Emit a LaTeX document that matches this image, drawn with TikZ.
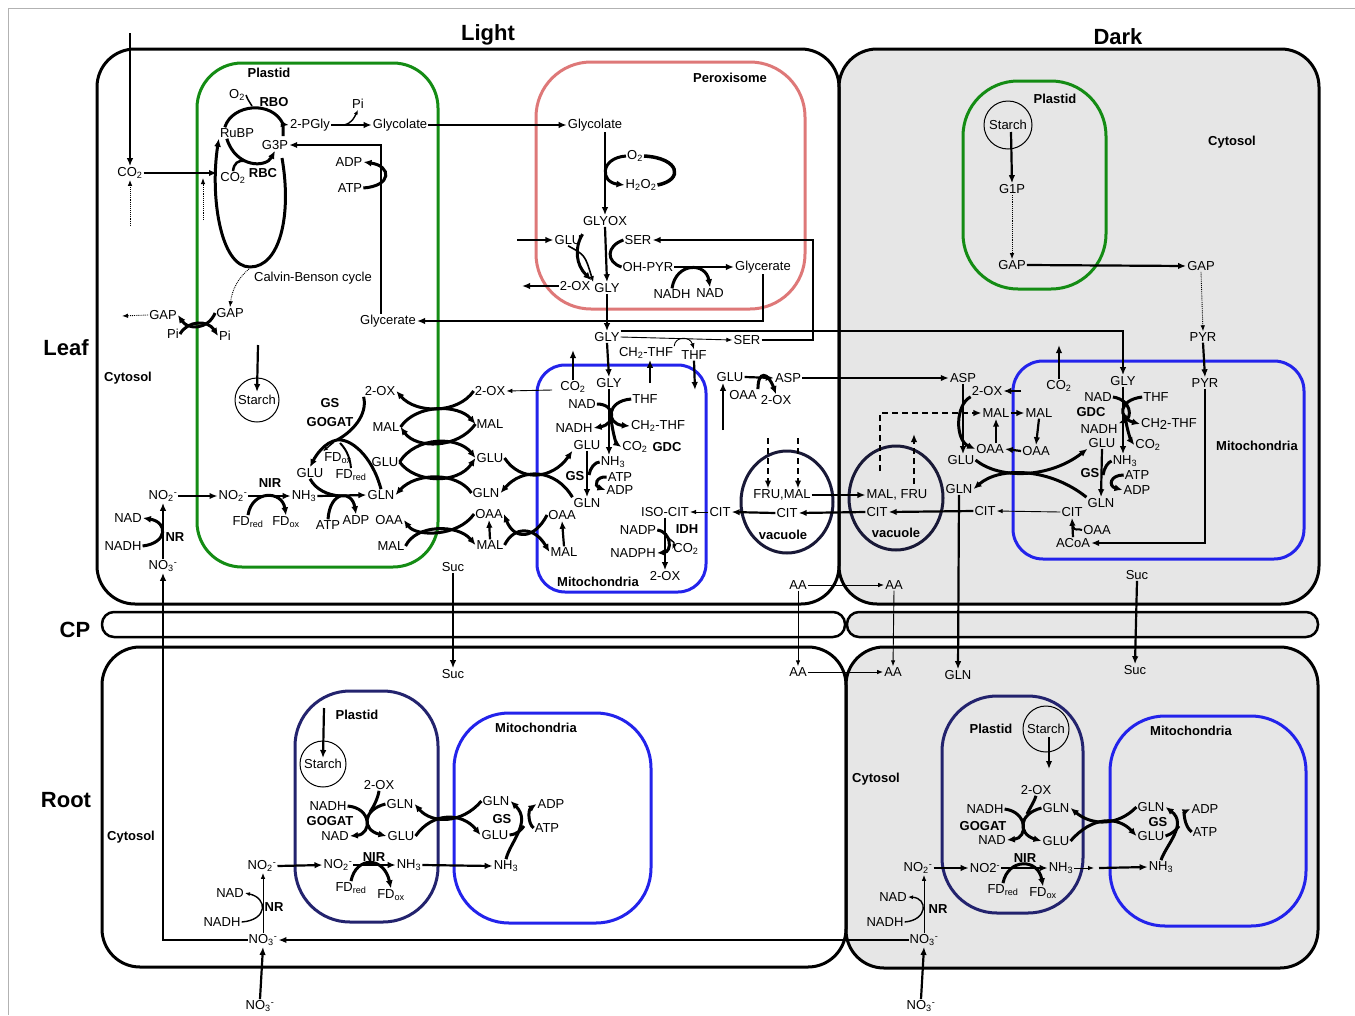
\documentclass[tikz,border=0pt]{standalone}
\usepackage{fontspec}
\setmainfont{Liberation Sans}
\usetikzlibrary{arrows.meta,calc}
\definecolor{pgreen}{RGB}{20,140,20}
\definecolor{mblue}{RGB}{35,35,235}
\definecolor{pxpink}{RGB}{222,120,120}
\definecolor{rnavy}{RGB}{35,35,110}
\definecolor{vnavy}{RGB}{25,25,55}
\definecolor{dgray}{RGB}{230,230,230}
\newcommand{\myfs}{\fontsize{13}{15}\selectfont}
\newcommand{\mysub}[1]{\textsubscript{#1}}
\newcommand{\mysup}[1]{\textsuperscript{#1}}
\newcommand{\Nd}[4]{\node[tx] (#1) at (#2,#3) {#4};}
\newcommand{\Bd}[4]{\node[bx] (#1) at (#2,#3) {#4};}
\begin{document}
\begin{tikzpicture}[x=1pt,y=-1pt,
  tx/.style={font=\myfs, inner sep=1pt},
  bx/.style={font=\myfs\bfseries, inner sep=1pt},
  ttl/.style={font=\fontsize{22}{26}\selectfont\bfseries, inner sep=1pt},
  arr/.style={line width=2.2pt, -{Latex[length=8pt,width=6.5pt]}},
  tar/.style={line width=0.9pt, -{Latex[length=6pt,width=4.5pt]}},
  dar/.style={line width=0.9pt, densely dotted, -{Latex[length=6pt,width=4.5pt]}},
  hdar/.style={line width=2.2pt, dash pattern=on 6pt off 4pt, -{Latex[length=8pt,width=6.5pt]}},
  ez/.style={line width=3pt},
  ezar/.style={line width=3pt, -{Latex[length=8pt,width=7pt]}},
  ezt/.style={line width=1.4pt, -{Latex[length=5pt,width=4pt]}},
  cellst/.style={line width=3pt, rounded corners=38pt},
  stc/.style={circle, draw, line width=1pt, inner sep=0pt, font=\myfs},
]
\useasboundingbox (0,0) rectangle (1355,1015);
\draw[gray!60, line width=1pt] (8,1015) -- (8,8) -- (1355,8);

% ---------- compartments ----------
\draw[cellst, fill=dgray] (839,49) rectangle (1319,604);
\draw[cellst] (97,49) rectangle (839,604);
\draw[line width=2.5pt, rounded corners=12pt, fill=dgray] (847,612) rectangle (1318,637);
\draw[line width=2.5pt, rounded corners=12pt] (102,612) rectangle (845,637);
\draw[cellst, fill=dgray] (846,647) rectangle (1318,968);
\draw[cellst] (102,647) rectangle (846,967);

\draw[pgreen, line width=3pt, rounded corners=45pt] (197,63) rectangle (438,567);
\draw[pxpink, line width=3pt, rounded corners=55pt] (536,62) rectangle (805,309);
\draw[mblue, line width=3pt, rounded corners=28pt] (537,365) rectangle (706,592);
\draw[pgreen, line width=3pt, rounded corners=55pt] (963,81) rectangle (1106,289);
\draw[mblue, line width=3pt, rounded corners=30pt] (1013,361) rectangle (1304,559);
\draw[vnavy, line width=3pt] (787,502) ellipse [x radius=46pt, y radius=51pt];
\draw[vnavy, line width=3pt] (896,498) ellipse [x radius=47pt, y radius=52pt];
\draw[rnavy, line width=3pt, rounded corners=55pt] (295,691) rectangle (438,922);
\draw[mblue, line width=3pt, rounded corners=55pt] (454,713) rectangle (651,923);
\draw[rnavy, line width=3pt, rounded corners=55pt] (942,696) rectangle (1083,913);
\draw[mblue, line width=3pt, rounded corners=55pt] (1110,716) rectangle (1306,926);

% ---------- titles ----------
\node[ttl] (tLight) at (488,35) {Light};
\node[ttl] (tDark) at (1118,37) {Dark};
\node[ttl] (tLeaf) at (66,348) {Leaf};
\node[ttl] (tCP) at (75,630) {CP};
\node[ttl] (tRoot) at (66,800) {Root};

% ---------- leaf light: plastid + cytosol ----------
\Nd{co2in}{130}{173}{CO\mysub{2}}
\Bd{plastidA}{269}{73}{Plastid}
\Nd{o2a}{237}{95}{O\mysub{2}}
\Bd{rbo}{274}{102}{RBO}
\Nd{rubp}{237}{133}{RuBP}
\Nd{pgly}{310}{125}{2-PGly}
\Nd{pia}{358}{104}{Pi}
\Nd{glycA}{400}{125}{Glycolate}
\Nd{g3p}{275}{145}{G3P}
\Nd{adpA}{349}{162}{ADP}
\Nd{atpA}{350}{188}{ATP}
\Nd{co2a}{233}{178}{CO\mysub{2}}
\Bd{rbc}{263}{173}{RBC}
\Nd{calvin}{313}{278}{Calvin-Benson cycle}
\Nd{gapP}{230}{313}{GAP}
\Nd{piP}{225}{336}{Pi}
\Nd{gapC}{163}{315}{GAP}
\Nd{piC}{173}{334}{Pi}
\Nd{glyceA}{388}{321}{Glycerate}
\Bd{cytA}{128}{378}{Cytosol}
\node[stc, minimum size=44pt] (starchA) at (257,400) {Starch};
\Bd{gsA}{330}{403}{GS}
\Bd{gogatA}{330}{422}{GOGAT}
\Nd{oxP}{380}{391}{2-OX}
\Nd{malP1}{386}{427}{MAL}
\Nd{fdoxB}{338}{458}{FD\mysub{ox}}
\Nd{gluA}{310}{473}{GLU}
\Nd{fdredB}{351}{475}{FD\mysub{red}}
\Nd{gluP2}{385}{462}{GLU}
\Nd{no2C}{163}{496}{NO\mysub{2}\mysup{-}}
\Nd{no2P}{233}{496}{NO\mysub{2}\mysup{-}}
\Bd{nirA}{270}{483}{NIR}
\Nd{nh3A}{304}{496}{NH\mysub{3}}
\Nd{glnP}{381}{495}{GLN}
\Nd{fdredA}{248}{522}{FD\mysub{red}}
\Nd{fdoxA}{286}{522}{FD\mysub{ox}}
\Nd{atpB}{328}{525}{ATP}
\Nd{adpB}{356}{520}{ADP}
\Nd{oaaP}{389}{520}{OAA}
\Nd{malP2}{391}{546}{MAL}
\Nd{nadA}{128}{518}{NAD}
\Nd{nadhA}{123}{546}{NADH}
\Bd{nrA}{175}{537}{NR}
\Nd{no3A}{163}{566}{NO\mysub{3}\mysup{-}}
\Nd{oxC}{490}{391}{2-OX}
\Nd{malC1}{490}{424}{MAL}
\Nd{gluC}{490}{458}{GLU}
\Nd{glnC}{486}{493}{GLN}
\Nd{oaaC}{489}{514}{OAA}
\Nd{malC2}{490}{545}{MAL}
\Nd{sucA}{453}{567}{Suc}

% ---------- peroxisome ----------
\Bd{peroxL}{730}{78}{Peroxisome}
\Nd{glycB}{595}{125}{Glycolate}
\Nd{o2b}{635}{156}{O\mysub{2}}
\Nd{h2o2}{641}{185}{H\mysub{2}O\mysub{2}}
\Nd{glyox}{605}{221}{GLYOX}
\Nd{gluX}{568}{240}{GLU}
\Nd{serX}{638}{240}{SER}
\Nd{ohpyr}{648}{267}{OH-PYR}
\Nd{glyceB}{763}{267}{Glycerate}
\Nd{oxX}{575}{286}{2-OX}
\Nd{glyX}{607}{288}{GLY}
\Nd{nadhX}{672}{294}{NADH}
\Nd{nadX}{710}{293}{NAD}

% ---------- leaf light: middle cytosol ----------
\Nd{glyCy}{607}{337}{GLY}
\Nd{serCy}{747}{340}{SER}
\Nd{ch2Cy}{646}{353}{CH\mysub{2}-THF}
\Nd{thfCy}{694}{355}{THF}
\Nd{gluAs}{730}{377}{GLU}
\Nd{asp}{788}{378}{ASP}
\Nd{oaaAs}{743}{395}{OAA}
\Nd{oxAs}{776}{400}{2-OX}
\Nd{aaA}{798}{585}{AA}

% ---------- leaf light: mitochondria ----------
\Nd{co2M}{573}{387}{CO\mysub{2}}
\Nd{glyM}{609}{383}{GLY}
\Nd{nadM}{582}{404}{NAD}
\Nd{thfM}{645}{399}{THF}
\Nd{nadhM}{574}{428}{NADH}
\Nd{ch2M}{658}{426}{CH\mysub{2}-THF}
\Nd{gluM}{587}{445}{GLU}
\Nd{co2M2}{635}{447}{CO\mysub{2}}
\Bd{gdcM}{667}{447}{GDC}
\Nd{nh3M}{613}{462}{NH\mysub{3}}
\Bd{gsM}{575}{476}{GS}
\Nd{atpM}{620}{477}{ATP}
\Nd{adpM}{620}{490}{ADP}
\Nd{glnM}{587}{503}{GLN}
\Nd{oaaM}{562}{515}{OAA}
\Nd{malM}{564}{552}{MAL}
\Nd{isocit}{665}{512}{ISO-CIT}
\Nd{citM}{720}{512}{CIT}
\Nd{nadp}{638}{530}{NADP}
\Bd{idh}{687}{529}{IDH}
\Nd{co2I}{686}{549}{CO\mysub{2}}
\Nd{nadph}{633}{553}{NADPH}
\Nd{oxM}{665}{576}{2-OX}
\Bd{mitoL}{598}{582}{Mitochondria}
\Nd{frumal}{782}{495}{FRU,MAL}
\Nd{citV}{787}{513}{CIT}
\Bd{vacL}{783}{535}{vacuole}

% ---------- leaf dark ----------
\Bd{plastidD}{1055}{99}{Plastid}
\node[stc, minimum size=48pt] (starchD) at (1008,125) {Starch};
\Bd{cytD}{1232}{142}{Cytosol}
\Nd{g1p}{1012}{189}{G1P}
\Nd{gapD1}{1012}{265}{GAP}
\Nd{gapD2}{1201}{266}{GAP}
\Nd{pyr1}{1203}{337}{PYR}
\Nd{pyr2}{1205}{383}{PYR}
\Nd{co2D}{1059}{386}{CO\mysub{2}}
\Nd{glyD}{1123}{381}{GLY}
\Nd{nadD}{1098}{397}{NAD}
\Nd{thfD}{1156}{397}{THF}
\Bd{gdcD}{1091}{412}{GDC}
\Nd{ch2D}{1169}{424}{CH\raisebox{-2pt}{2}-THF}
\Nd{nadhD}{1099}{429}{NADH}
\Nd{gluD}{1102}{443}{GLU}
\Nd{co2D2}{1148}{445}{CO\mysub{2}}
\Nd{nh3D}{1125}{461}{NH\mysub{3}}
\Bd{gsD}{1090}{473}{GS}
\Nd{atpD}{1137}{475}{ATP}
\Nd{adpD}{1137}{490}{ADP}
\Nd{glnD}{1101}{503}{GLN}
\Nd{citD}{1072}{512}{CIT}
\Nd{oaaD}{1097}{530}{OAA}
\Nd{acoa}{1073}{543}{ACoA}
\Bd{mitoD}{1257}{446}{Mitochondria}
\Nd{aspD}{963}{378}{ASP}
\Nd{oxD}{987}{391}{2-OX}
\Nd{malD1}{996}{413}{MAL}
\Nd{malD2}{1039}{413}{MAL}
\Nd{oaaD1}{990}{449}{OAA}
\Nd{oaaD2}{1036}{451}{OAA}
\Nd{gluDc}{961}{460}{GLU}
\Nd{glnDc}{959}{489}{GLN}
\Nd{citDc}{985}{511}{CIT}
\Nd{malfru}{897}{495}{MAL, FRU}
\Nd{citVD}{877}{512}{CIT}
\Bd{vacD}{896}{533}{vacuole}
\Nd{sucD}{1137}{575}{Suc}
\Nd{aaD}{894}{585}{AA}

% ---------- root light ----------
\Nd{sucR}{453}{674}{Suc}
\Bd{plastidR}{357}{715}{Plastid}
\node[stc, minimum size=46pt] (starchR) at (323,764) {Starch};
\Bd{mitoR}{536}{728}{Mitochondria}
\Nd{oxR}{379}{785}{2-OX}
\Nd{nadhR}{328}{806}{NADH}
\Nd{glnR}{400}{804}{GLN}
\Bd{gogatR}{330}{821}{GOGAT}
\Nd{nadR}{335}{836}{NAD}
\Nd{gluR}{401}{836}{GLU}
\Nd{glnRm}{496}{801}{GLN}
\Nd{adpRm}{551}{804}{ADP}
\Bd{gsRm}{502}{819}{GS}
\Nd{gluRm}{495}{835}{GLU}
\Nd{atpRm}{547}{828}{ATP}
\Nd{no2Rc}{262}{866}{NO\mysub{2}\mysup{-}}
\Nd{no2Rp}{338}{865}{NO\mysub{2}\mysup{-}}
\Bd{nirR}{374}{857}{NIR}
\Nd{nh3Rp}{409}{865}{NH\mysub{3}}
\Nd{nh3Rm}{506}{866}{NH\mysub{3}}
\Nd{fdredR}{351}{888}{FD\mysub{red}}
\Nd{fdoxR}{391}{895}{FD\mysub{ox}}
\Bd{cytR}{131}{837}{Cytosol}
\Nd{nadR2}{230}{893}{NAD}
\Nd{nadhR2}{222}{922}{NADH}
\Bd{nrR}{274}{907}{NR}
\Nd{no3R}{263}{940}{NO\mysub{3}\mysup{-}}
\Nd{no3B}{260}{1006}{NO\mysub{3}\mysup{-}}
\Nd{aaR1}{798}{672}{AA}
\Nd{aaR2}{893}{672}{AA}

% ---------- root dark ----------
\Nd{glnRd}{958}{675}{GLN}
\Nd{sucRd}{1135}{670}{Suc}
\Bd{cytRd}{876}{779}{Cytosol}
\Bd{plastidRd}{991}{729}{Plastid}
\node[stc, minimum size=46pt] (starchRd) at (1046,729) {Starch};
\Bd{mitoRd}{1191}{731}{Mitochondria}
\Nd{oxRd}{1036}{790}{2-OX}
\Nd{nadhRd}{985}{809}{NADH}
\Nd{glnRd2}{1056}{808}{GLN}
\Bd{gogatRd}{983}{826}{GOGAT}
\Nd{nadRd}{992}{840}{NAD}
\Nd{gluRd}{1056}{841}{GLU}
\Nd{glnRdm}{1151}{807}{GLN}
\Nd{adpRdm}{1205}{809}{ADP}
\Bd{gsRdm}{1158}{822}{GS}
\Nd{gluRdm}{1151}{836}{GLU}
\Nd{atpRdm}{1205}{832}{ATP}
\Nd{no2Rdc}{918}{868}{NO\mysub{2}\mysup{-}}
\Nd{no2Rdp}{985}{868}{NO2\mysup{-}}
\Bd{nirRd}{1025}{858}{NIR}
\Nd{nh3Rdp}{1061}{868}{NH\mysub{3}}
\Nd{nh3Rdm}{1161}{867}{NH\mysub{3}}
\Nd{fdredRd}{1003}{890}{FD\mysub{red}}
\Nd{fdoxRd}{1043}{893}{FD\mysub{ox}}
\Nd{nadRd2}{893}{897}{NAD}
\Nd{nadhRd2}{885}{922}{NADH}
\Bd{nrRd}{938}{909}{NR}
\Nd{no3Rd}{924}{940}{NO\mysub{3}\mysup{-}}
\Nd{no3Bd}{921}{1006}{NO\mysub{3}\mysup{-}}

% ================= connectors =================
% CO2 input
\coordinate (inTop) at (130,33);
\draw[arr] (inTop) -- (co2in.north);
\coordinate (dA) at (130,226);
\draw[dar] (dA) -- (co2in.south);
\coordinate (cycL) at (217,173);
\draw[arr] (co2in.east) -- (cycL);
\coordinate (dB) at (203,220); \coordinate (dBt) at (203,178);
\draw[dar] (dB) -- (dBt);
% Calvin cycle loop
\draw[ezar] (282,158) .. controls (292,215) and (280,267) .. (250,267) .. controls (220,267) and (210,195) .. (rubp.south west);
% RBO
\draw[ez] ([xshift=6pt]rubp.north west) .. controls (232,104) and (272,100) .. (283,124) -- (283,136);
\draw[arr] (281,124) -- (pgly.west);
\draw[line width=1.5pt] (o2a.east) .. controls (247,98) .. (252,106);
% RBC
\draw[ezar] ([xshift=8pt]rubp.south west) .. controls (236,168) and (266,168) .. (g3p.south);
\draw[line width=2.5pt] (co2a.north) .. controls (234,163) and (238,160) .. (245,161);
% PGly -> glycolate
\draw[arr] (pgly.east) -- (glycA.west);
\draw[ezt] (344,125) .. controls (352,123) and (354,118) .. (pia.south);
\draw[arr] (glycA.east) -- (glycB.west);
% ATP / ADP and G3P return
\draw[ezar] (atpA.east) .. controls (392,186) and (392,166) .. (adpA.east);
\draw[arr] ([xshift=-7pt]glyceA.north) |- (g3p.east);
\draw[arr] (glyceB.south) |- (glyceA.east);
% GAP export
\draw[dar] (249,269) .. controls (238,278) and (232,290) .. (gapP.north);
\draw[ezar] (gapP.west) .. controls (208,330) and (188,330) .. (gapC.east);
\draw[ezar] (piC.east) .. controls (188,320) and (208,320) .. (piP.west);
\coordinate (gapOut) at (122,316);
\draw[dar] (gapC.west) -- (gapOut);
\coordinate (stA) at (258,345);
\draw[arr] (stA) -- ([yshift=8pt]starchA.center);
% NIR, GS/GOGAT in plastid
\draw[arr] (no2C.east) -- (no2P.west);
\draw[arr] (no2P.east) -- (nh3A.west);
\draw[ezar] (fdredA.north) .. controls (252,490) and (282,490) .. (fdoxA.north);
\draw[arr] (nh3A.east) -- (glnP.west);
\draw[ezar] (atpB.north) .. controls (330,490) and (352,490) .. (adpB.north);
\draw[ezar] (glnP.north) .. controls (372,455) and (350,438) .. (337,440) .. controls (325,442) and (316,455) .. (gluA.north);
\draw[ez] (oxP.south west) .. controls (368,415) and (352,432) .. (337,440);
\draw[line width=2pt] (fdredB.north) .. controls (350,455) and (344,447) .. (340,443);
\draw[ezt] (334,442) .. controls (328,447) .. (fdoxB.north west);
\draw[ez] (gluA.south) .. controls (316,490) and (328,495) .. (340,496);
% NR leaf
\draw[arr] (no3A.north) -- (no2C.south);
\draw[ezar] (nadhA.east) .. controls (168,543) and (168,522) .. (nadA.east);
\draw[arr] (no3R.west) -| (no3A.south);
% plastid exchangers
\draw[ezar] (oxC.west) .. controls (458,414) and (416,414) .. (oxP.east);
\draw[ezar] (malP1.east) .. controls (416,404) and (458,404) .. (malC1.west);
\draw[ezar] (malC1.west) .. controls (458,449) and (416,449) .. (malP1.east);
\draw[ezar] (gluP2.east) .. controls (416,436) and (458,436) .. (gluC.west);
\draw[ezar] (gluP2.east) .. controls (416,484) and (458,484) .. (gluC.west);
\draw[ezar] (glnC.west) .. controls (458,472) and (416,472) .. (glnP.east);
\draw[ezar] (oaaC.west) .. controls (458,537) and (416,537) .. (oaaP.east);
\draw[ezar] (malP2.east) .. controls (416,524) and (458,524) .. (malC2.west);
% mitochondrial exchangers
\draw[ezar] (gluC.east) .. controls (520,482) and (552,480) .. (gluM.south west);
\draw[ezar] (glnM.north west) .. controls (555,468) and (522,468) .. (glnC.east);
\draw[ezar] (oaaM.west) .. controls (534,540) and (514,540) .. (oaaC.east);
\draw[ezar] (malC2.east) .. controls (514,526) and (534,526) .. (malM.west);
\draw[arr] (malC2.north) -- (oaaC.south);
\draw[arr] (malM.north) -- (oaaM.south);
\draw[arr] (sucA.south) -- (sucR.north);
% peroxisome
\draw[arr] ([xshift=10pt]glycB.south) -- (glyox.north);
\draw[ezar] (o2b.west) .. controls (600,158) and (600,182) .. (h2o2.west);
\draw[line width=3.5pt] (o2b.east) .. controls (680,158) and (684,180) .. (h2o2.east);
\coordinate (gluIn) at (517,240);
\draw[arr] (gluIn) -- (gluX.west);
\draw[arr] (glyox.south) -- (glyX.north);
\draw[ezar] (gluX.north east) .. controls (574,248) and (576,265) .. (oxX.north east);
\draw[line width=1.6pt, -{Latex[length=6pt,width=5pt]}] (gluX.south) .. controls (585,255) .. (glyX.north west);
\draw[ez] (serX.west) .. controls (606,246) and (606,262) .. (ohpyr.west);
\coordinate (oxOut) at (522,286);
\draw[arr] (oxX.west) -- (oxOut);
\draw[arr] (ohpyr.east) -- (glyceB.west);
\draw[ezar] (nadhX.north) .. controls (676,262) and (706,262) .. (nadX.north);
\draw[arr] (glyX.south) -- (glyCy.north);
% glycine / serine traffic
\draw[arr] (glyCy.north east) -| (glyD.north);
\draw[tar] (glyCy.east) -- (serCy.west);
\draw[arr] (serCy.east) -- (813,340) |- (serX.east);
\draw[tar] (ch2Cy.north east) .. controls (675,336) and (690,336) .. (thfCy.north);
\coordinate (ch2up) at (650,383);
\draw[arr] (ch2up) -- (ch2up |- ch2Cy.south);
\coordinate (thfdn) at (695,390);
\draw[arr] (thfCy.south) -- (thfdn);
\coordinate (co2up) at (573,350);
\draw[arr] (co2M.north) -- (co2up);
\draw[arr] (glyCy.south) -- (glyM.north);
\coordinate (oxfrom) at (552,390);
\draw[tar] (oxfrom) -- (oxC.east);
% GDC leaf light
\draw[arr] (glyM.south) -- (glyM.south |- nh3M.north);
\draw[ezar] (nadM.east) .. controls (616,404) and (616,424) .. (nadhM.east);
\draw[ezar] (thfM.west) .. controls (606,401) and (606,424) .. (ch2M.west);
\draw[ezar] (611,418) .. controls (613,436) and (617,444) .. (co2M2.west);
% GS mito
\draw[arr] (gluM.south) -- (glnM.north);
\draw[ez] (nh3M.west) .. controls (595,462) and (590,468) .. (589,475);
\draw[ezar] (atpM.west) .. controls (596,476) and (594,486) .. (adpM.west);
% IDH
\draw[tar] (citM.west) -- (isocit.east);
\draw[arr] (isocit.south) -- (oxM.north);
\draw[ezar] (nadp.east) .. controls (672,532) and (672,552) .. (nadph.east);
\draw[ezt] (667,537) .. controls (675,543) .. (co2I.west);
% ASP
\draw[arr] (gluAs.east) -- (asp.west);
\draw[ezar] (oaaAs.north east) .. controls (758,370) and (768,372) .. (oxAs.north);
\coordinate (gluUp) at (723,430);
\draw[arr] (gluUp) -- (gluUp |- gluAs.south);
\draw[arr] (asp.east) -- (aspD.west);
% vacuoles
\coordinate (vd1) at (768,438); \coordinate (vd2) at (798,438);
\draw[hdar] (vd1) -- (vd1 |- frumal.north);
\draw[hdar] (vd2) -- (vd2 |- frumal.north);
\draw[arr] (frumal.east) -- (malfru.west);
\draw[arr] (citVD.west) -- (citV.east);
\draw[arr] (citV.west) -- (citM.east);
% AA, GLN, Suc transport
\draw[tar] (aaA.east) -- (aaD.west);
\draw[tar] (aaA.south) -- (aaR1.north);
\draw[tar] (aaD.south) -- (aaR2.north);
\draw[tar] (aaR1.east) -- (aaR2.west);
\draw[arr] (glnDc.south) -- (glnRd.north);
\draw[arr] (sucD.south) -- (sucRd.north);

% ---------- leaf dark connectors ----------
\draw[arr] ([xshift=3pt,yshift=-7pt]starchD.center) -- (g1p.north);
\draw[dar] (g1p.south) -- (gapD1.north);
\draw[arr] (gapD1.east) -- (gapD2.west);
\draw[dar] (gapD2.south) -- (pyr1.north);
\draw[arr] (pyr1.south) -- (pyr2.north);
\draw[arr] (pyr2.south) |- (acoa.east);
\draw[arr] (acoa.north) -- (citD.south);
\draw[line width=2pt] (oaaD.west) .. controls (1078,528) and (1074,532) .. (1073,526);
\draw[tar] (citD.west) -- (citDc.east);
\draw[arr] (citDc.west) -- (citVD.east);
\coordinate (co2Dup) at (1059,345);
\draw[arr] (co2D.north) -- (co2Dup);
\draw[arr] (glyD.south) -- (glyD.south |- nh3D.north);
\draw[ezar] (nadD.east) .. controls (1132,400) and (1132,418) .. (nadhD.north east);
\draw[ezar] (thfD.west) .. controls (1118,400) and (1118,418) .. (ch2D.west);
\draw[ezar] (1125,415) .. controls (1127,432) and (1132,442) .. (co2D2.west);
\draw[arr] (gluD.south) -- (glnD.north);
\draw[ez] (nh3D.west) .. controls (1108,462) and (1104,468) .. (1103,475);
\draw[ezar] (atpD.west) .. controls (1110,475) and (1108,486) .. (adpD.west);
\coordinate (oxDfrom) at (1021,391);
\draw[arr] (oxDfrom) -- (oxD.east);
\draw[arr] (malD1.east) -- (malD2.west);
\draw[arr] (malD2.south) -- (oaaD2.north);
\draw[arr] (oaaD2.west) -- (oaaD1.east);
\draw[arr] (malD1.south |- oaaD1.north) -- (malD1.south);
\draw[arr] (aspD.south) -- (aspD.south |- gluDc.north);
\draw[ezar] (oxD.south west) .. controls (955,405) and (955,440) .. (oaaD1.west);
\draw[ezar] (gluDc.east) .. controls (1000,480) and (1050,478) .. (gluD.south west);
\draw[ezar] (glnD.north west) .. controls (1050,468) and (1000,466) .. (glnDc.east);
\coordinate (dsh1) at (880,471);
\draw[hdar] (dsh1) |- (malD1.west);
\coordinate (dsh2) at (914,484); \coordinate (dsh2t) at (914,434);
\draw[hdar] (dsh2) -- (dsh2t);

% ---------- root light connectors ----------
\coordinate (stR) at (324,708);
\draw[arr] (stR) -- ([yshift=6pt]starchR.center);
\draw[ezar] (glnR.west) .. controls (362,810) and (362,830) .. (gluR.west);
\draw[ez] (oxR.south) .. controls (378,798) and (374,806) .. (370,812);
\draw[ezar] (nadhR.east) .. controls (372,808) and (372,834) .. (nadR.east);
\draw[ezar] (glnRm.west) .. controls (462,824) and (432,824) .. (glnR.east);
\draw[ezar] (gluR.east) .. controls (432,812) and (462,812) .. (gluRm.west);
\draw[ezar] (nh3Rm.north) .. controls (510,842) and (532,822) .. (glnRm.east);
\draw[ez] (gluRm.east) .. controls (518,834) and (521,830) .. (524,826);
\draw[ezar] (atpRm.west) .. controls (528,824) and (528,810) .. (adpRm.west);
\draw[arr] (no2Rc.east) -- (no2Rp.west);
\draw[arr] (no2Rp.east) -- (nh3Rp.west);
\draw[ezar] (fdredR.north) .. controls (356,856) and (384,856) .. (fdoxR.north);
\draw[arr] (nh3Rp.east) -- (nh3Rm.west);
\draw[tar] (no3R.north) -- (no3R.north |- no2Rc.south);
\draw[ezt] (nadhR2.east) .. controls (268,920) and (268,898) .. (nadR2.east);
\draw[arr] (no3B.north) -- (no3R.south);
\draw[arr] (no3Rd.west) -- (no3R.east);

% ---------- root dark connectors ----------
\coordinate (stRdEnd) at (1049,769);
\draw[arr] ([xshift=3pt,yshift=-8pt]starchRd.center) -- (stRdEnd);
\draw[ezar] (glnRd2.west) .. controls (1018,814) and (1018,834) .. (gluRd.west);
\draw[ez] (oxRd.south) .. controls (1035,800) and (1030,808) .. (1027,814);
\draw[ezar] (nadhRd.east) .. controls (1028,812) and (1028,838) .. (nadRd.east);
\draw[ezar] (glnRdm.west) .. controls (1118,826) and (1092,826) .. (glnRd2.east);
\draw[ezar] (gluRd.east) .. controls (1092,816) and (1118,816) .. (gluRdm.west);
\draw[ezar] (nh3Rdm.north) .. controls (1166,845) and (1188,824) .. (glnRdm.east);
\draw[ez] (gluRdm.east) .. controls (1172,834) and (1176,830) .. (1179,826);
\draw[ezar] (atpRdm.west) .. controls (1184,826) and (1184,812) .. (adpRdm.west);
\draw[arr] (no2Rdc.east) -- (no2Rdp.west);
\draw[arr] (no2Rdp.east) -- (nh3Rdp.west);
\draw[ezar] (fdredRd.north) .. controls (1008,858) and (1038,858) .. (fdoxRd.north);
\coordinate (nhA) at (1094,868); \coordinate (nhB) at (1099,868);
\draw[tar] (nh3Rdp.east) -- (nhA);
\draw[arr] (nhB) -- (nh3Rdm.west);
\draw[tar] (no3Rd.north) -- (no3Rd.north |- no2Rdc.south);
\draw[ezt] (nadhRd2.east) .. controls (928,920) and (928,898) .. (nadRd2.east);
\draw[arr] (no3Bd.north) -- (no3Rd.south);
\end{tikzpicture}
\end{document}
